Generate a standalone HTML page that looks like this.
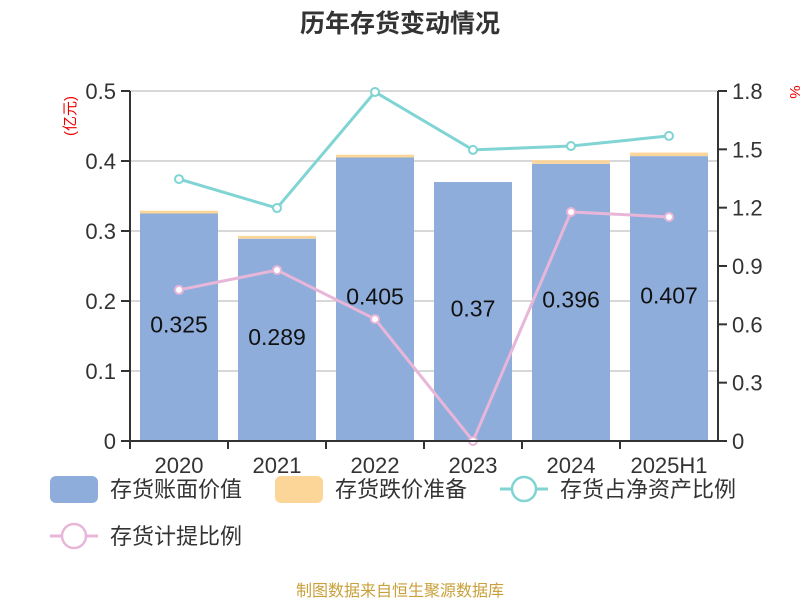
<!DOCTYPE html>
<html><head><meta charset="utf-8"><style>
body{margin:0;background:#fff;}
svg{display:block;font-family:"Liberation Sans","Noto Sans CJK SC",sans-serif;}
</style></head><body>
<svg id="c" width="800" height="600">
<text x="400" y="32" text-anchor="middle" font-size="25" font-weight="bold" fill="#333">历年存货变动情况</text>
<text transform="translate(75,116) rotate(-90)" text-anchor="middle" font-size="15" fill="#e00">(亿元)</text>
<text transform="translate(790,92) rotate(90)" text-anchor="middle" font-size="15" fill="#e00">%</text>
<g id="grid"></g><g id="bars"></g><g id="lines"></g><g id="axes"></g>
<g font-size="22" fill="#333">
<rect x="50" y="476" width="48" height="27" rx="6" fill="#8eaddb"/>
<text x="110" y="497">存货账面价值</text>
<rect x="275" y="476" width="48" height="27" rx="6" fill="#fcd699"/>
<text x="335" y="497">存货跌价准备</text>
<line x1="500" y1="489" x2="548" y2="489" stroke="#80d4d4" stroke-width="3"/>
<circle cx="524" cy="489" r="12" fill="#fff" stroke="#80d4d4" stroke-width="2.5"/>
<text x="560" y="497">存货占净资产比例</text>
<line x1="50" y1="536" x2="98" y2="536" stroke="#e8b6d8" stroke-width="3"/>
<circle cx="74" cy="536" r="12" fill="#fff" stroke="#e8b6d8" stroke-width="2.5"/>
<text x="110" y="544">存货计提比例</text>
</g>
<text x="400" y="596" text-anchor="middle" font-size="16" fill="#c9a03a">制图数据来自恒生聚源数据库</text>
</svg>
<script>
const categories=["2020","2021","2022","2023","2024","2025H1"];
const bookValue=[0.325,0.289,0.405,0.37,0.396,0.407];
const reserve=[0.004,0.004,0.004,0,0.005,0.005];
const ratioPct=[1.347,1.198,1.795,1.497,1.517,1.569];
const provisionPct=[0.777,0.879,0.627,0,1.178,1.152];
const leftTicks=["0","0.1","0.2","0.3","0.4","0.5"];
const rightTicks=["0","0.3","0.6","0.9","1.2","1.5","1.8"];
const NS="http://www.w3.org/2000/svg";
const X0=130,X1=718,Y0=441,Y1=91;
const band=(X1-X0)/categories.length;
const xc=i=>X0+band*(i+0.5);
const yL=v=>Y0-(v/0.5)*(Y0-Y1);
const yR=v=>Y0-(v/1.8)*(Y0-Y1);
function mk(p,t,a){const e=document.createElementNS(NS,t);for(const k in a)e.setAttribute(k,a[k]);document.getElementById(p).appendChild(e);return e;}
leftTicks.forEach(t=>{const y=yL(+t);
 if(+t>0){const g=mk('grid','line',{x1:X0,x2:X1,y1:y,y2:y,stroke:'#ccc','stroke-width':1.5});
 
 }
 const tk=mk('axes','line',{x1:X0-9,x2:X0,y1:y,y2:y,stroke:'#333','stroke-width':2});
 
 
 const tx=mk('axes','text',{x:X0-14,y:y+8,'text-anchor':'end','font-size':22,fill:'#333'});tx.textContent=t;
 
 });
rightTicks.forEach(t=>{const y=yR(+t);
 const tk=mk('axes','line',{x1:X1,x2:X1+9,y1:y,y2:y,stroke:'#333','stroke-width':2});
 
 
 const tx=mk('axes','text',{x:X1+14,y:y+8,'font-size':22,fill:'#333'});tx.textContent=t;
 
 });
[['left-axis-line',X0],['right-axis-line',X1]].forEach(([n,x])=>{const l=mk('axes','line',{x1:x,x2:x,y1:Y1,y2:Y0,stroke:'#333','stroke-width':2});
 
 });
const xa=mk('axes','line',{x1:X0,x2:X1,y1:Y0,y2:Y0,stroke:'#333','stroke-width':2});


categories.forEach((c,i)=>{
 const tk=mk('axes','line',{x1:X0+band*i,x2:X0+band*i,y1:Y0,y2:Y0+8,stroke:'#333','stroke-width':2});
 
 
 const tx=mk('axes','text',{x:xc(i),y:473,'text-anchor':'middle','font-size':22,fill:'#333'});tx.textContent=c;
 
 
 const w=78,x=xc(i)-w/2;
 const b=mk('bars','rect',{x:x,y:yL(bookValue[i]),width:w,height:Y0-yL(bookValue[i]),fill:'#8eaddb'});
 
 
 if(reserve[i]>0){const r=mk('bars','rect',{x:x,y:yL(bookValue[i]+reserve[i]),width:w,height:yL(bookValue[i])-yL(bookValue[i]+reserve[i]),fill:'#fcd699'});
 
 }
 const lb=mk('bars','text',{x:xc(i),y:(yL(bookValue[i])+Y0)/2+5,'text-anchor':'middle','font-size':23,fill:'#111'});lb.textContent=bookValue[i];
 
 
});
[[ratioPct,'#80d4d4','ratio'],[provisionPct,'#e8b6d8','provision']].forEach(([d,col,n])=>{
 const pl=mk('lines','polyline',{points:d.map((v,i)=>xc(i)+','+yR(v)).join(' '),fill:'none',stroke:col,'stroke-width':3});
 
 
 d.forEach((v,i)=>{const p=mk('lines','circle',{cx:xc(i),cy:yR(v),r:4,fill:'#fff',stroke:col,'stroke-width':2});
 
 });
});
</script>
</body></html>
